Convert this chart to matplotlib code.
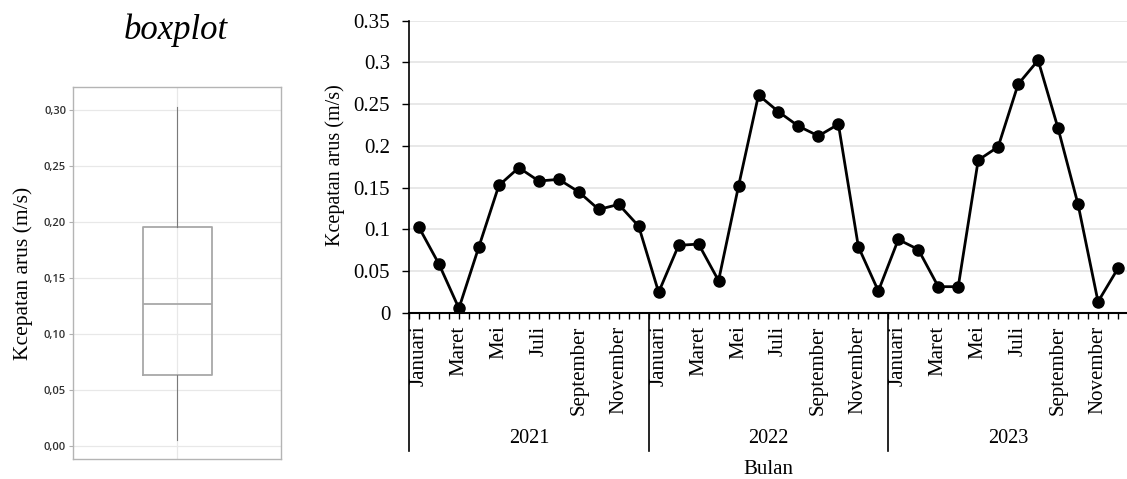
import numpy as np
import matplotlib
matplotlib.use("Agg")
import matplotlib.pyplot as plt
from matplotlib.ticker import MultipleLocator, FixedLocator

SERIF = "Liberation Serif"

# monthly mean current speed (m/s), Jan 2021 .. Dec 2023
years = ["2021", "2022", "2023"]
months = ["Januari", "Februari", "Maret", "April", "Mei", "Juni", "Juli",
          "Agustus", "September", "Oktober", "November", "Desember"]
speed = [0.1025, 0.0586, 0.0056, 0.0793, 0.1527, 0.174, 0.158, 0.160, 0.145, 0.124, 0.130, 0.104,
         0.0248, 0.081, 0.0825, 0.0387, 0.152, 0.261, 0.241, 0.2237, 0.212, 0.226, 0.0793, 0.0263,
         0.088, 0.076, 0.0315, 0.0315, 0.183, 0.199, 0.274, 0.3026, 0.221, 0.130, 0.0135, 0.0535]
box_ticks = [0.0, 0.05, 0.10, 0.15, 0.20, 0.25, 0.30]
line_ticks = [0, 0.05, 0.1, 0.15, 0.2, 0.25, 0.3, 0.35]

vals = np.array(speed)
n = len(vals)
xs = np.arange(n)

fig = plt.figure(figsize=(11.27, 4.79), dpi=100)

# ---- left: boxplot (quartiles via (n+1)p rule) ----
axb = fig.add_axes([0.0648, 0.0418, 0.1846, 0.7766])
q1, med, q3 = np.percentile(vals, [25, 50, 75], method="weibull")
stats = [dict(med=med, q1=q1, q3=q3, whislo=vals.min(), whishi=vals.max(), fliers=[])]
axb.bxp(stats, positions=[1], widths=0.332, showcaps=False, patch_artist=False,
        boxprops=dict(color="#a8a8a8", linewidth=1.3),
        medianprops=dict(color="#a8a8a8", linewidth=1.3),
        whiskerprops=dict(color="#7a7a7a", linewidth=0.8))
axb.set_xlim(0.5, 1.5)
axb.set_ylim(-0.0116, 0.3202)
axb.set_xticks([1])
axb.set_xticklabels([])
axb.tick_params(axis="x", length=0)
axb.set_yticks(box_ticks)
axb.set_yticklabels([f"{t:.2f}".replace(".", ",") for t in box_ticks],
                    fontsize=8, color="#303030", family="Open Sans", fontweight="semibold")
axb.tick_params(axis="y", length=3, color="#b0b0b0", pad=2)
axb.grid(True, color="#e8e8e8", linewidth=0.9)
axb.set_axisbelow(True)
for s in axb.spines.values():
    s.set_color("#b4b4b4")
    s.set_linewidth(1.0)
axb.set_ylabel("Kcepatan arus (m/s)", family=SERIF, fontsize=15.5)
axb.yaxis.set_label_coords(-0.192, 0.5)
fig.text(0.156, 0.937, "boxplot", family=SERIF, style="italic", fontsize=25,
         ha="center", va="center")

# ---- right: monthly time series ----
ax = fig.add_axes([0.3629, 0.3466, 0.6371, 0.6102])
ax.plot(xs, vals, color="black", linewidth=2, marker="o", markersize=8, zorder=3)
ax.set_xlim(-0.5, 35.45)
ax.set_ylim(0, 0.35)
ax.set_yticks(line_ticks)
ax.set_yticklabels([f"{t:g}" for t in line_ticks], family=SERIF, fontsize=15)
ax.tick_params(axis="y", length=5, width=1, direction="out", pad=8.5)
ax.yaxis.grid(True, color="#e6e6e6", linewidth=1.3)
ax.set_axisbelow(True)
for side in ("top", "right"):
    ax.spines[side].set_visible(False)
ax.spines["left"].set_linewidth(1.2)
ax.spines["bottom"].set_linewidth(1.5)

# month labels every second month, minor ticks every half month
lab_pos = xs[::2]
ax.xaxis.set_major_locator(FixedLocator(lab_pos))
ax.set_xticklabels([months[i % 12] for i in lab_pos], rotation=90,
                   family=SERIF, fontsize=15)
ax.xaxis.set_minor_locator(MultipleLocator(0.5))
ax.tick_params(axis="x", which="both", length=4, width=1, direction="out", pad=5)

ax.set_ylabel("Kcepatan arus (m/s)", family=SERIF, fontsize=14.5)
ax.yaxis.set_label_coords(-0.089, 0.505)

# year groups below the month labels
trans = ax.get_xaxis_transform()
for k in range(len(years) + 1):
    xd = k * 12 - 0.5
    ax.plot([xd, xd], [0, -0.472], transform=trans, color="black",
            linewidth=1.2, clip_on=False)
for k, yr in enumerate(years):
    ax.text(k * 12 + 5.5, -0.431, yr, transform=trans, family=SERIF,
            fontsize=14.5, ha="center", va="center")
ax.text((n - 1) / 2, -0.537, "Bulan", transform=trans, family=SERIF,
        fontsize=15, ha="center", va="center")

fig.savefig("out.png", dpi=100)
